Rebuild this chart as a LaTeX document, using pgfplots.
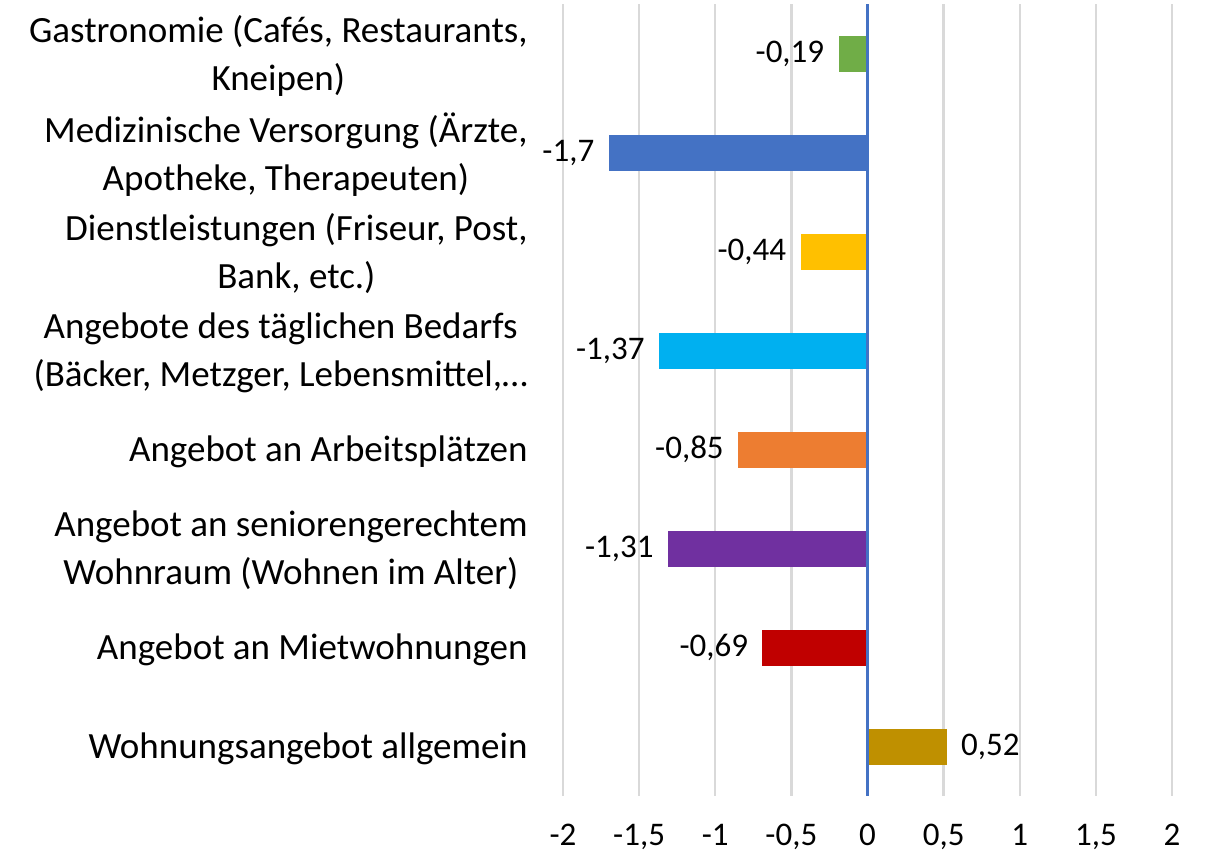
\documentclass[border=0pt]{standalone}
\usepackage{pgfplots}
\pgfplotsset{compat=1.18}
\usepackage{fontspec}
\setmainfont{Carlito}
\definecolor{cGreen}{HTML}{70AD47}
\definecolor{cBlue}{HTML}{4472C4}
\definecolor{cYellow}{HTML}{FFC000}
\definecolor{cLBlue}{HTML}{00B0F0}
\definecolor{cOrange}{HTML}{ED7D31}
\definecolor{cPurple}{HTML}{7030A0}
\definecolor{cRed}{HTML}{C00000}
\definecolor{cGold}{HTML}{BF9000}
\definecolor{cGrid}{HTML}{D9D9D9}
\begin{document}
\begin{tikzpicture}
\useasboundingbox (0,0) rectangle (602.5pt,426pt);
\begin{axis}[
  at={(281.5pt,28pt)}, anchor=south west,
  scale only axis, width=304.5pt, height=396pt,
  xbar, bar width=18pt, bar shift=0pt,
  xmin=-2, xmax=2, ymin=-0.5, ymax=7.5, y dir=reverse,
  xtick={-2,-1.5,...,2},
  ytick={0,...,7},
  yticklabels={
    {Gastronomie (Cafés, Restaurants,\\Kneipen)},
    {Medizinische Versorgung (Ärzte,\\Apotheke, Therapeuten)},
    {Dienstleistungen (Friseur, Post,\\Bank, etc.)},
    {Angebote des täglichen Bedarfs\\(Bäcker, Metzger, Lebensmittel,…},
    {Angebot an Arbeitsplätzen},
    {Angebot an seniorengerechtem\\Wohnraum (Wohnen im Alter)},
    {Angebot an Mietwohnungen},
    {Wohnungsangebot allgemein}},
  yticklabel style={align=center, anchor=east, inner sep=0pt, xshift=-17.5pt, yshift=-1pt, font=\fontsize{18.5}{24}\selectfont},
  xticklabel style={anchor=north, inner sep=0pt, yshift=-14pt, font=\fontsize{16.5}{18}\selectfont},
  /pgf/number format/assume math mode=true,
  /pgf/number format/use comma,
  xticklabel={\pgfmathprintnumber[assume math mode=true,use comma]{\tick}},
  major tick length=0pt,
  axis line style={draw=none},
  xmajorgrids, grid style={cGrid, line width=1.2pt},
  nodes near coords={\pgfmathprintnumber[assume math mode=true,use comma,precision=2]{\pgfplotspointmeta}},
  nodes near coords align={horizontal},
  every node near coord/.append style={font=\fontsize{16.5}{18}\selectfont, text=black, inner xsep=7pt},
  clip=false,
]
\addplot[fill=cGreen, draw=none] coordinates {(-0.19,0)};
\addplot[fill=cBlue, draw=none] coordinates {(-1.7,1)};
\addplot[fill=cYellow, draw=none] coordinates {(-0.44,2)};
\addplot[fill=cLBlue, draw=none] coordinates {(-1.37,3)};
\addplot[fill=cOrange, draw=none] coordinates {(-0.85,4)};
\addplot[fill=cPurple, draw=none] coordinates {(-1.31,5)};
\addplot[fill=cRed, draw=none] coordinates {(-0.69,6)};
\addplot[fill=cGold, draw=none] coordinates {(0.52,7)};
\draw[cBlue, line width=1.8pt] (axis cs:0,-0.5) -- (axis cs:0,7.5);
\end{axis}
\end{tikzpicture}
\end{document}
